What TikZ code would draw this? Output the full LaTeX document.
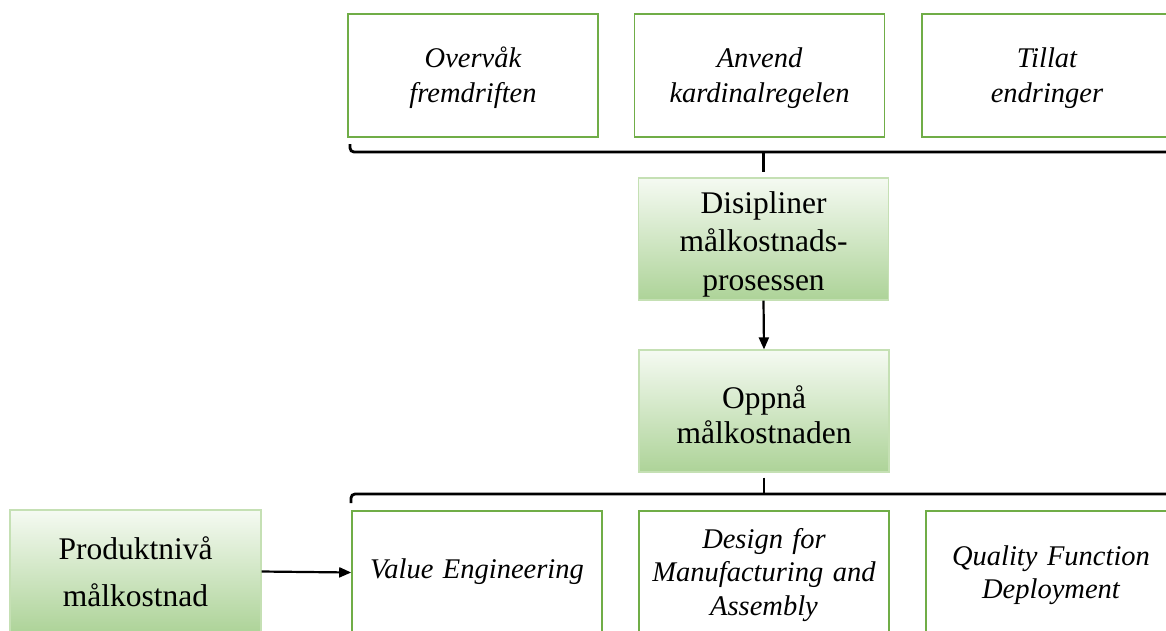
\documentclass[tikz,border=0pt]{standalone}
\usepackage{fontspec}
\setmainfont{Liberation Serif}
\usetikzlibrary{arrows.meta}
\definecolor{boxline}{HTML}{70AD47}
\definecolor{fillline}{HTML}{C5E0B4}
\definecolor{gradtop}{HTML}{F5FAF2}
\definecolor{gradbot}{HTML}{ADD398}
\tikzset{
  plainbox/.style={draw=boxline, line width=1.6pt, fill=white, minimum width=250pt,
    minimum height=123pt, inner sep=0pt},
  shadebox/.style={draw=fillline, line width=1.2pt, top color=gradtop, bottom color=gradbot,
    minimum width=250pt, minimum height=122pt, inner sep=0pt},
  % text blocks are placed by the baseline of their first line
  ptext/.style={anchor=base, inner sep=0pt, text width=248pt, align=center,
    font=\itshape\fontsize{28.5}{#1}\selectfont},
  stext/.style={anchor=base, inner sep=0pt, text width=248pt, align=center,
    font=\fontsize{31.5}{#1}\selectfont},
  bracket/.style={line width=2.8pt, rounded corners=4pt},
  link/.style={line width=2.4pt},
  arrowlink/.style={line width=2.2pt, -{Triangle[length=12pt,width=10pt]}}
}
\begin{document}
\begin{tikzpicture}[x=1pt,y=-1pt]
\clip (0,0) rectangle (1166,630);
\fill[white] (0,0) rectangle (1166,630);

% upper row of tools
\node[plainbox] (ov) at (473,75.5) {};
\node[plainbox] (an) at (759.5,75.5) {};
\node[plainbox] (ti) at (1047,75.5) {};
\node[ptext=35] (ov-t) at (473,67.5) {Overvåk\\fremdriften};
\node[ptext=35] (an-t) at (759.5,67.5) {Anvend\\kardinalregelen};
\node[ptext=35] (ti-t) at (1047,67.5) {Tillat\\endringer};

% central process
\node[shadebox] (di) at (763.5,239) {};
\node[shadebox] (op) at (764,411) {};
\node[stext=38.5] (di-t) at (763.5,213) {Disipliner\\målkostnads-\\prosessen};
\node[stext=35.5] (op-t) at (764,408) {Oppnå\\målkostnaden};

% lower row of methods
\node[plainbox] (ve) at (477,572.5) {};
\node[plainbox] (dm) at (764,572.5) {};
\node[plainbox] (qf) at (1051,572.5) {};
\node[ptext=34] (ve-t) at (477,578) {Value Engineering};
\node[ptext=33.5] (dm-t) at (764,548) {Design for\\Manufacturing and\\Assembly};
\node[ptext=33.5] (qf-t) at (1051,565) {Quality Function\\Deployment};

% input on the left
\node[shadebox, minimum width=251pt, minimum height=123pt] (pn) at (135.5,571.5) {};
\node[stext=47] (pn-t) at (135.5,559) {Produktnivå\\målkostnad};

% upper bracket
\coordinate (tb) at (763.5,152);
\draw[bracket] (350,144) -- (350,152) -- (1175,152);
\draw[link] (tb) -- ([yshift=5pt]di.north -| tb);

% lower bracket
\coordinate (bb) at (764,494);
\draw[bracket] (351,503) -- (351,494) -- (1175,494);
\draw[link] ([yshift=-5pt]op.south -| bb) -- (bb);

% arrows
\draw[arrowlink] (di.south) -- (op.north);
\draw[arrowlink] (pn.east) -- (ve.west);
\end{tikzpicture}
\end{document}
